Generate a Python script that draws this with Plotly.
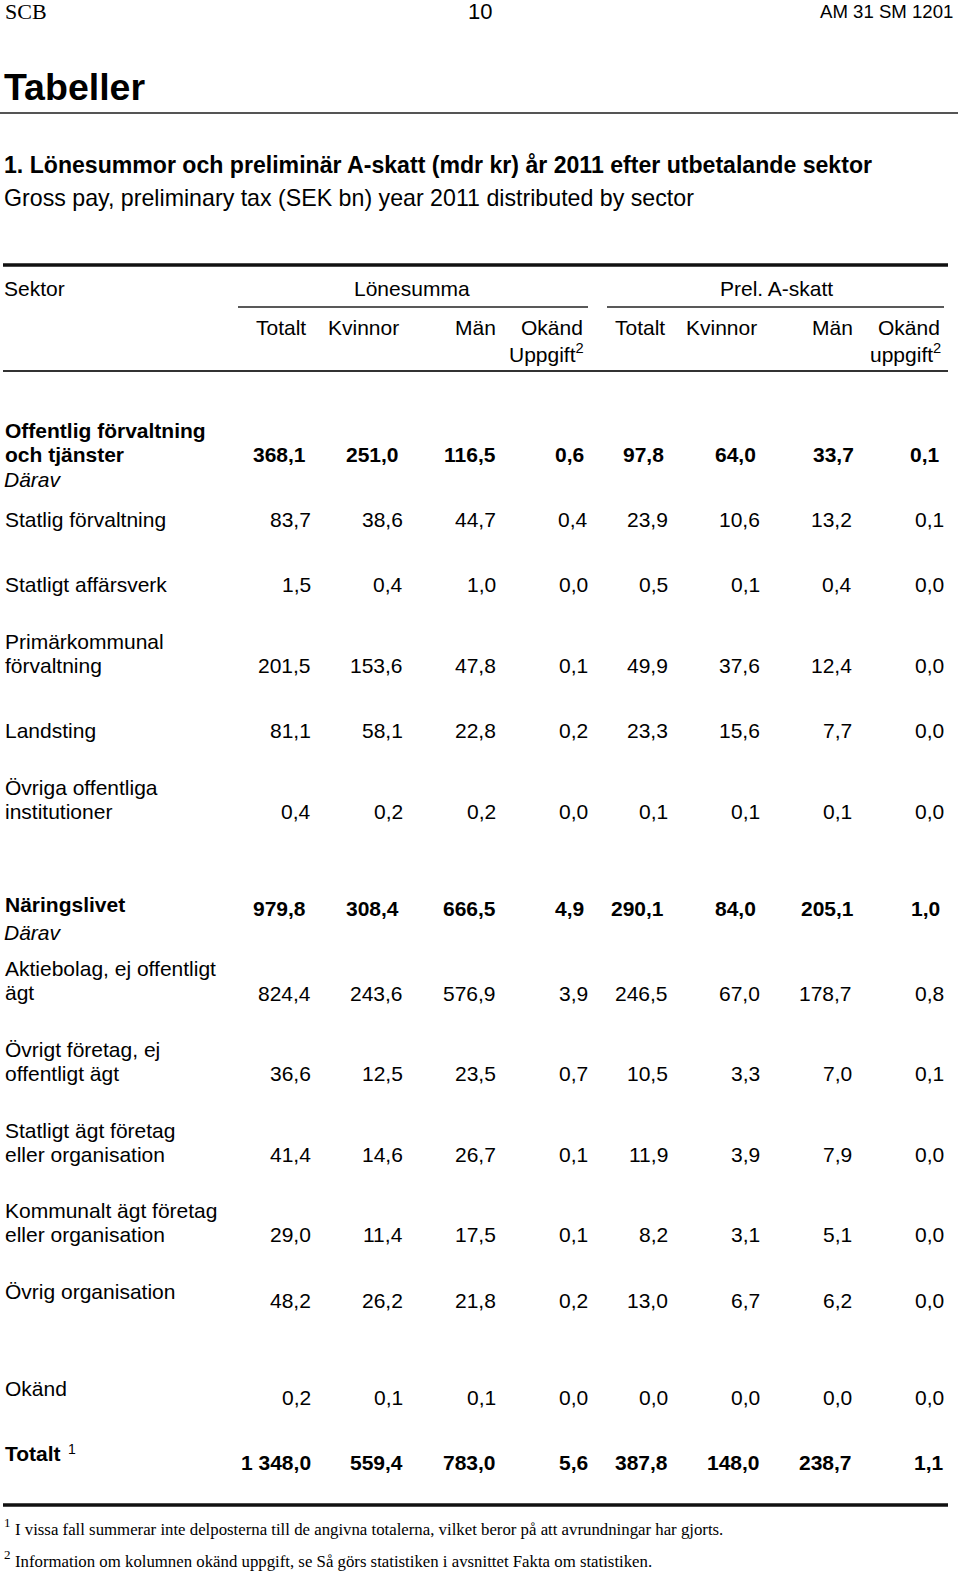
import plotly.graph_objects as go

# ---------------- data ----------------
sectors = [
    "Offentlig förvaltning\noch tjänster",
    "Statlig förvaltning",
    "Statligt affärsverk",
    "Primärkommunal\nförvaltning",
    "Landsting",
    "Övriga offentliga\ninstitutioner",
    "Näringslivet",
    "Aktiebolag, ej offentligt\nägt",
    "Övrigt företag, ej\noffentligt ägt",
    "Statligt ägt företag\neller organisation",
    "Kommunalt ägt företag\neller organisation",
    "Övrig organisation",
    "Okänd",
    "Totalt",
]
lon_totalt = [368.1, 83.7, 1.5, 201.5, 81.1, 0.4, 979.8, 824.4, 36.6, 41.4, 29.0, 48.2, 0.2, 1348.0]
lon_kvinnor = [251.0, 38.6, 0.4, 153.6, 58.1, 0.2, 308.4, 243.6, 12.5, 14.6, 11.4, 26.2, 0.1, 559.4]
lon_man = [116.5, 44.7, 1.0, 47.8, 22.8, 0.2, 666.5, 576.9, 23.5, 26.7, 17.5, 21.8, 0.1, 783.0]
lon_okand = [0.6, 0.4, 0.0, 0.1, 0.2, 0.0, 4.9, 3.9, 0.7, 0.1, 0.1, 0.2, 0.0, 5.6]
skatt_totalt = [97.8, 23.9, 0.5, 49.9, 23.3, 0.1, 290.1, 246.5, 10.5, 11.9, 8.2, 13.0, 0.0, 387.8]
skatt_kvinnor = [64.0, 10.6, 0.1, 37.6, 15.6, 0.1, 84.0, 67.0, 3.3, 3.9, 3.1, 6.7, 0.0, 148.0]
skatt_man = [33.7, 13.2, 0.4, 12.4, 7.7, 0.1, 205.1, 178.7, 7.0, 7.9, 5.1, 6.2, 0.0, 238.7]
skatt_okand = [0.1, 0.1, 0.0, 0.0, 0.0, 0.0, 1.0, 0.8, 0.1, 0.0, 0.0, 0.0, 0.0, 1.1]
bold_rows = ["Offentlig förvaltning\noch tjänster", "Näringslivet", "Totalt"]
darav_after = ["Offentlig förvaltning\noch tjänster", "Näringslivet"]

col_groups = ["Lönesumma", "Prel. A-skatt"]
col_heads = ["Totalt", "Kvinnor", "Män", "Okänd", "Totalt", "Kvinnor", "Män", "Okänd"]

title_sv = "1. Lönesummor och preliminär A-skatt (mdr kr) år 2011 efter utbetalande sektor"
title_en = "Gross pay, preliminary tax (SEK bn) year 2011 distributed by sector"
footnotes = [
    "I vissa fall summerar inte delposterna till de angivna totalerna, vilket beror på att avrundningar har gjorts.",
    "Information om kolumnen okänd uppgift, se Så görs statistiken i avsnittet Fakta om statistiken.",
]

# ---------------- layout constants ----------------
W, H = 960, 1573
SANS = "Liberation Sans, Arial, sans-serif"
NARROW = "Liberation Sans Narrow, Arial Narrow, Liberation Sans, sans-serif"
SERIF = "Liberation Serif, Times New Roman, serif"
FS = 21
COL_RIGHT = [311, 403, 496, 588, 668, 760, 852, 944]
COL_RIGHT_BOLD = [306, 399, 496, 584, 664, 756, 854, 940]
VAL_Y = [454, 519, 584, 665, 730, 811, 908, 993, 1073, 1154, 1234, 1300, 1397, 1462]
LAB_Y = [430, 519, 584, 641, 730, 787, 904, 968, 1049, 1130, 1210, 1291, 1388, 1453]
LINE_STEP = 24.5

columns = [lon_totalt, lon_kvinnor, lon_man, lon_okand,
           skatt_totalt, skatt_kvinnor, skatt_man, skatt_okand]


def fmt(v):
    s = f"{v:,.1f}"
    return s.replace(",", " ").replace(".", ",")


annotations = []


def add(text, x, y, xanchor="left", size=FS, family=SANS, color="#000"):
    annotations.append(dict(
        text=text, x=x, y=y, xref="x", yref="y", xanchor=xanchor, yanchor="middle",
        showarrow=False, borderpad=0, borderwidth=0,
        font=dict(family=family, size=size, color=color),
    ))


# page header
add("SCB", 5, 11, size=22, family=SERIF)
add("10", 480, 11, xanchor="center", size=22, family=NARROW)
add("AM 31 SM 1201", 953, 11, xanchor="right", size=18.6, family=NARROW)
add("<b>Tabeller</b>", 4, 87, size=37.5)
add("<b>" + title_sv + "</b>", 4, 165, size=23.1)
add(title_en, 4, 198, size=23.2)

# column headers
add("Sektor", 4, 288)
add(col_groups[0], 412, 288, xanchor="center")
add(col_groups[1], 776, 288, xanchor="center")
HEAD_X = [(306, "right"), (328, "left"), (496, "right"), (583, "right"),
          (665, "right"), (686, "left"), (853, "right"), (940, "right")]
for (hx, anc), name in zip(HEAD_X, col_heads):
    add(name, hx, 327, xanchor=anc)
add("Uppgift<sup>2</sup>", 584, 353, xanchor="right")
add("uppgift<sup>2</sup>", 941, 353, xanchor="right")

# rows
for i, name in enumerate(sectors):
    bold = name in bold_rows
    lines = name.split("\n")
    for k, ln in enumerate(lines):
        if name == "Totalt":
            add("<b>Totalt</b>", 5, LAB_Y[i] + k * LINE_STEP)
            add("1", 68, LAB_Y[i] - 4, size=14)
            continue
        txt = "<b>" + ln + "</b>" if bold else ln
        add(txt, 5, LAB_Y[i] + k * LINE_STEP)
    if name in darav_after:
        add("<i>Därav</i>", 4, LAB_Y[i] + len(lines) * LINE_STEP + (0 if len(lines) > 1 else 4))
    for c, col in enumerate(columns):
        use_bold_pos = bold and name != "Totalt"
        x = COL_RIGHT_BOLD[c] if use_bold_pos else COL_RIGHT[c]
        txt = fmt(col[i])
        if bold:
            txt = "<b>" + txt + "</b>"
        add(txt, x, VAL_Y[i], xanchor="right")

# footnotes
for j, fn in enumerate(footnotes):
    add(str(j + 1), 4, 1522 + j * 32, size=13, family=SERIF)
    add(fn, 15, 1529 + j * 32, size=16.8, family=SERIF)

# rules
shapes = []


def hline(y, x0, x1, w, color="#000"):
    shapes.append(dict(type="line", xref="x", yref="y", x0=x0, x1=x1, y0=y, y1=y,
                       line=dict(color=color, width=w)))


hline(113, 0, 958, 2, "#555")
hline(265, 3, 948, 3.5, "#111")
hline(307, 238, 588, 1.5, "#222")
hline(307, 607, 944, 1.5, "#222")
hline(371, 3, 948, 2.2, "#333")
hline(1505, 3, 948, 3.5, "#111")

fig = go.Figure()
fig.add_trace(go.Scatter(x=[0, W], y=[0, H], mode="markers",
                         marker=dict(opacity=0), hoverinfo="skip", showlegend=False))
fig.update_layout(
    width=W, height=H, margin=dict(l=0, r=0, t=0, b=0),
    paper_bgcolor="white", plot_bgcolor="white",
    xaxis=dict(range=[0, W], visible=False, fixedrange=True),
    yaxis=dict(range=[H, 0], visible=False, fixedrange=True),
    annotations=annotations, shapes=shapes, showlegend=False,
)
fig.write_html("out.html", post_script="document.body.style.margin='0';",
               config={"displayModeBar": False})
